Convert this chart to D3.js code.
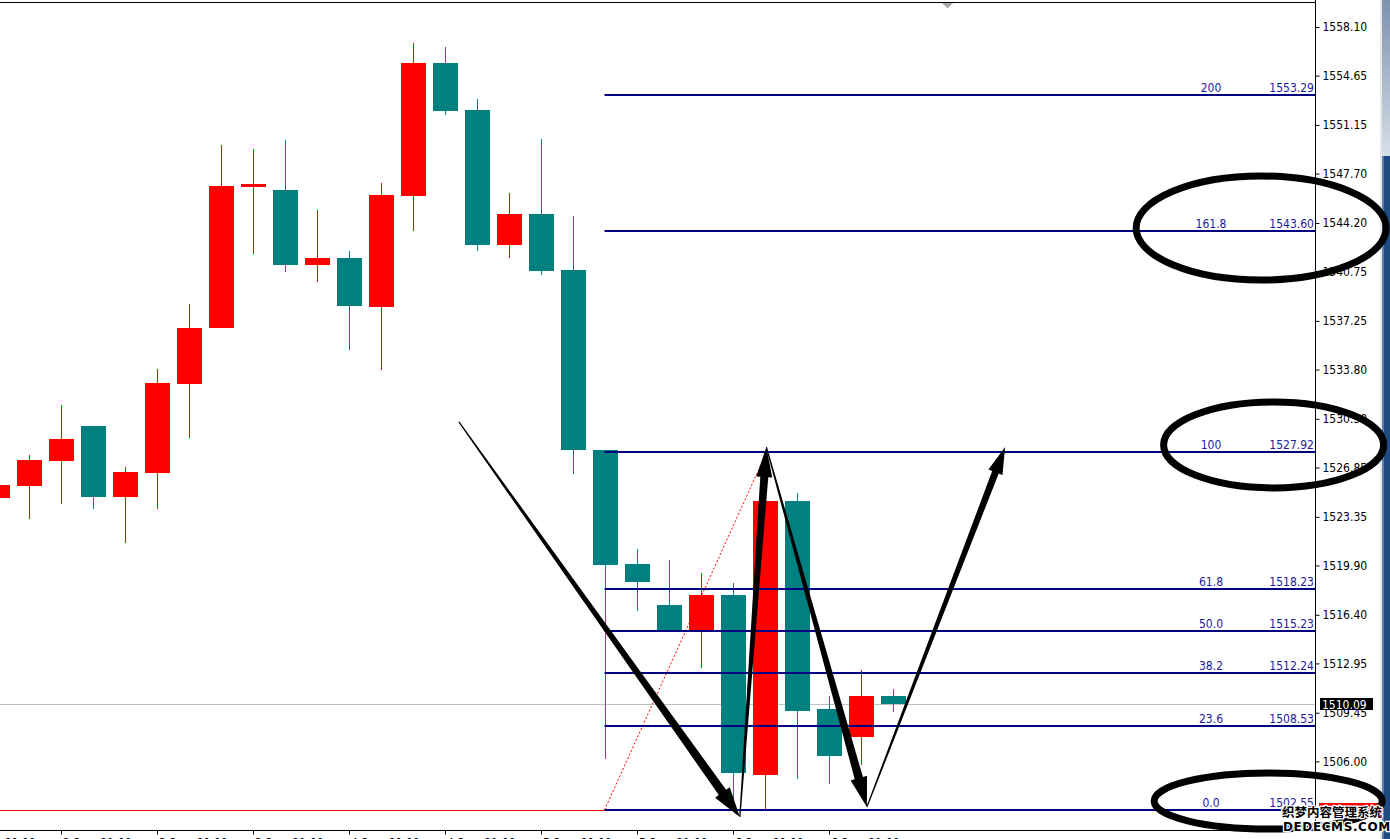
<!DOCTYPE html>
<html><head><meta charset="utf-8">
<script src="https://cdn.jsdelivr.net/npm/d3@7"></script>
<style>
html,body{margin:0;padding:0;background:#fff;overflow:hidden;}
svg{display:block;}
.lbl{font-family:"DejaVu Sans Condensed","DejaVu Sans",sans-serif;font-stretch:condensed;font-size:12px;}
</style></head><body>
<svg id="c" width="1390" height="839"></svg>
<script>
// ---- data ----
const candleTimes = ["2 Sep 13:00","2 Sep 17:00","2 Sep 21:00","3 Sep 01:00","3 Sep 05:00","3 Sep 09:00","3 Sep 13:00","3 Sep 17:00","3 Sep 21:00","4 Sep 01:00","4 Sep 05:00","4 Sep 09:00","4 Sep 13:00","4 Sep 17:00","4 Sep 21:00","5 Sep 01:00","5 Sep 05:00","5 Sep 09:00","5 Sep 13:00","5 Sep 17:00","5 Sep 21:00","6 Sep 01:00","6 Sep 05:00","6 Sep 09:00","6 Sep 13:00","6 Sep 17:00","6 Sep 21:00","7 Sep 01:00","7 Sep 05:00"];
const opens  = [1524.71,1525.56,1527.33,1529.79,1524.78,1526.48,1532.79,1536.77,1546.77,1546.54,1541.24,1541.71,1538.26,1546.13,1555.55,1552.21,1542.66,1544.83,1540.86,1528.09,1520.00,1517.10,1515.27,1517.80,1505.06,1524.47,1509.72,1507.75,1510.64];
const highs  = [1525.90,1527.74,1531.28,1529.79,1526.89,1533.84,1538.45,1549.73,1549.45,1550.08,1545.12,1542.21,1547.03,1556.97,1556.68,1552.99,1546.32,1550.15,1544.69,1528.09,1521.07,1520.29,1519.37,1518.66,1525.20,1525.06,1510.64,1512.48,1511.14];
const lows   = [1524.40,1523.20,1524.28,1523.93,1521.52,1523.93,1528.96,1536.77,1542.02,1540.74,1540.03,1535.21,1533.79,1543.65,1551.88,1542.23,1541.73,1540.53,1526.41,1506.15,1516.69,1515.27,1512.65,1502.84,1502.55,1504.75,1504.40,1505.75,1509.53];
const closes = [1525.61,1527.38,1528.87,1524.78,1526.53,1532.85,1536.75,1546.82,1546.96,1541.24,1541.71,1538.33,1546.18,1555.55,1552.16,1542.66,1544.83,1540.81,1528.11,1519.95,1518.75,1515.27,1517.80,1505.16,1524.47,1509.60,1506.40,1510.64,1510.09];

const xTickIndex  = [-1,2,5,8,11,14,17,20,23,26];
const xTickLabels = ["2 Sep 09:00","2 Sep 21:00","3 Sep 09:00","3 Sep 21:00","4 Sep 09:00","4 Sep 21:00","5 Sep 09:00","5 Sep 21:00","6 Sep 09:00","6 Sep 21:00"];
const yTicks = [1558.10,1554.65,1551.15,1547.70,1544.20,1540.75,1537.25,1533.80,1530.30,1526.85,1523.35,1519.90,1516.40,1512.95,1509.45,1506.00];

const fibRatios = ["200","161.8","100","61.8","50.0","38.2","23.6","0.0"];
const fibPrices = [1553.29,1543.60,1527.92,1518.23,1515.23,1512.24,1508.53,1502.55];
const fibStart = [19,1502.55], fibEnd = [24,1527.92];
const currentPrice = 1510.09;

// hand-drawn annotations (candle index, price)
const arrowFrom = [[14.45,1530.08],[23.23,1502.06],[24.06,1528.30],[27.2,1502.76]];
const arrowTo   = [[23.23,1502.06],[24.06,1528.30],[27.2,1502.76],[31.52,1528.30]];
const ellipseCenters = [[39.52,1543.84],[39.91,1528.45],[39.74,1503.19]];

// ---- layout ----
const W = 1390, H = 839, plotR = 1315.5, plotB = 830;
const svg = d3.select("#c");
const x = d3.scaleLinear().domain([0,1]).range([-3.5,28.5]);
const y = d3.scaleLinear().domain([1502.55,1558.10]).range([810,27]);
const BODY = 25;
const UP = "#ff0000", DN = "#008080";

svg.append("rect").attr("width",W).attr("height",H).attr("fill","#fff");
svg.append("defs").append("clipPath").attr("id","plot").append("rect")
  .attr("x",0).attr("y",3).attr("width",plotR).attr("height",plotB-3);
const plot = svg.append("g").attr("clip-path","url(#plot)");

// current price line
plot.append("line").attr("x1",0).attr("x2",plotR)
  .attr("y1",Math.round(y(currentPrice))+0.5).attr("y2",Math.round(y(currentPrice))+0.5)
  .attr("stroke","#c0c0c0").attr("stroke-width",1);

// candles
const idx = d3.range(candleTimes.length);
const cg = plot.append("g");
idx.forEach(i => {
  const up = closes[i] >= opens[i];
  const col = up ? UP : DN;
  const cx = Math.round(x(i));
  cg.append("line").attr("x1",cx+0.5).attr("x2",cx+0.5)
    .attr("y1",Math.round(y(highs[i]))).attr("y2",Math.round(y(lows[i])))
    .attr("stroke",col).attr("stroke-width",1);
  const top = Math.round(y(Math.max(opens[i],closes[i])));
  const bot = Math.round(y(Math.min(opens[i],closes[i])));
  cg.append("rect").attr("x",cx-12).attr("width",BODY)
    .attr("y",top).attr("height",Math.max(2,bot-top)).attr("fill",col);
});

// red horizontal + dotted fib trend line
plot.append("line").attr("x1",0).attr("x2",x(fibStart[0]))
  .attr("y1",Math.round(y(fibStart[1]))+0.5).attr("y2",Math.round(y(fibStart[1]))+0.5)
  .attr("stroke",UP).attr("stroke-width",1);
plot.append("line").attr("x1",x(fibStart[0])).attr("y1",y(fibStart[1]))
  .attr("x2",x(fibEnd[0])+2).attr("y2",y(fibEnd[1]))
  .attr("stroke",UP).attr("stroke-width",1).attr("stroke-dasharray","2,2");

// fib levels
const fg = plot.append("g");
fibPrices.forEach((p,i) => {
  const yy = Math.round(y(p));
  fg.append("line").attr("x1",x(fibStart[0])).attr("x2",plotR)
    .attr("y1",yy).attr("y2",yy).attr("stroke","#000080").attr("stroke-width",2);
  fg.append("text").attr("class","lbl").attr("x",1211).attr("y",yy-3)
    .attr("text-anchor","middle").attr("fill","#1c1ca0").text(fibRatios[i]);
  fg.append("text").attr("class","lbl").attr("x",1314).attr("y",yy-3)
    .attr("text-anchor","end").attr("fill","#1c1ca0").text(p.toFixed(2));
});

// frame
svg.append("line").attr("x1",0).attr("x2",plotR).attr("y1",2.5).attr("y2",2.5).attr("stroke","#000");
svg.append("path").attr("d",d3.line()([[942,3],[953,3],[947.5,8.5]])+"Z").attr("fill","#a8a8a8");

// y axis
const yAxis = d3.axisRight(y).tickValues(yTicks).tickSize(4).tickPadding(3).tickFormat(d=>d.toFixed(2));
const yg = svg.append("g").attr("transform",`translate(${plotR},0)`).call(yAxis);
yg.select(".domain").attr("d",`M0,0V${plotB}`).attr("stroke","#000");
yg.selectAll("text").attr("class","lbl").attr("fill","#000").style("font-size","12px");

// x axis
const xAxis = d3.axisBottom(x).tickValues(xTickIndex).tickSize(4).tickPadding(3)
  .tickFormat((d,i)=>xTickLabels[i]);
const xg = svg.append("g").attr("transform",`translate(0,${plotB+0.5})`).call(xAxis);
xg.select(".domain").attr("d",`M0,0H${plotR}`).attr("stroke","#000");
xg.selectAll(".tick line").attr("transform","translate(0.5,0)");
xg.selectAll("text").attr("class","lbl").attr("fill","#000").attr("text-anchor","start")
  .attr("dx","2").attr("y",16).attr("dy",0).style("font-size","12px")
  .style("white-space","pre").text((d,i)=>xTickLabels[i].replace(/^(\d+ \w+) /,"$1  "));

// current price label
const cpY = Math.round(y(currentPrice));
svg.append("rect").attr("x",1320).attr("y",cpY-6).attr("width",53).attr("height",12).attr("fill","#000");
svg.append("text").attr("class","lbl").attr("x",1322).attr("y",cpY+5).attr("fill","#fff").text(currentPrice.toFixed(2));

// red marker on axis for red line
svg.append("rect").attr("x",1319).attr("y",Math.round(y(fibStart[1]))-7).attr("width",59).attr("height",9).attr("fill",UP);

// scrollbar
const grad = svg.append("defs").append("linearGradient").attr("id","sg").attr("x1",0).attr("y1",0).attr("x2",0).attr("y2",1);
grad.append("stop").attr("offset","0").attr("stop-color","#7d92ad");
grad.append("stop").attr("offset","1").attr("stop-color","#d6dee8");
svg.append("rect").attr("x",1380).attr("y",0).attr("width",10).attr("height",H).attr("fill","#e8e8e8");
svg.append("rect").attr("x",1382).attr("y",0).attr("width",8).attr("height",156).attr("fill","url(#sg)");
svg.append("rect").attr("x",1382).attr("y",156).attr("width",8).attr("height",H-156).attr("fill","#1f4b82");
svg.append("rect").attr("x",1382).attr("y",156).attr("width",2).attr("height",H-156).attr("fill","#5a7fae");

// annotations: tapered arrows
function arrowPath(p0,p1,w0,w1,headLen,headW){
  const dx=p1[0]-p0[0], dy=p1[1]-p0[1], L=Math.hypot(dx,dy);
  const ux=dx/L, uy=dy/L, nx=-uy, ny=ux;
  const bx=p1[0]-ux*headLen, by=p1[1]-uy*headLen;
  const pts=[[p0[0]+nx*w0/2,p0[1]+ny*w0/2],[bx+nx*w1/2,by+ny*w1/2],[bx+nx*headW/2,by+ny*headW/2],
    p1,[bx-nx*headW/2,by-ny*headW/2],[bx-nx*w1/2,by-ny*w1/2],[p0[0]-nx*w0/2,p0[1]-ny*w0/2]];
  return d3.line()(pts)+"Z";
}
const arrowStyle = [[1.2,9,30,18],[1.2,8,30,16],[1.2,8.5,30,17],[1.2,7,27,15]];
const ag = svg.append("g");
arrowFrom.forEach((a,i)=>{
  const p0=[x(a[0]),y(a[1])], p1=[x(arrowTo[i][0]),y(arrowTo[i][1])];
  const s=arrowStyle[i];
  ag.append("path").attr("d",arrowPath(p0,p1,s[0],s[1],s[2],s[3])).attr("fill","#000");
});

// ellipses
const ellR = [[125,52],[110,43],[114,28]];
ellipseCenters.forEach((c,i)=>{
  ag.append("ellipse").attr("cx",x(c[0])).attr("cy",y(c[1]))
    .attr("rx",ellR[i][0]).attr("ry",ellR[i][1])
    .attr("fill","none").attr("stroke","#000").attr("stroke-width",7);
});

// watermark
svg.append("text").attr("x",1282).attr("y",817)
  .style("font-family","'Noto Sans CJK SC'").style("font-size","12.5px").style("font-weight","bold")
  .attr("fill","#000").attr("stroke","#fff").attr("stroke-width",2.5).attr("paint-order","stroke")
  .text("织梦内容管理系统");
svg.append("text").attr("x",1283).attr("y",831)
  .style("font-family","'DejaVu Sans'").style("font-size","12px").style("font-weight","bold").style("letter-spacing","0.6px")
  .attr("fill","#000").attr("stroke","#fff").attr("stroke-width",2.5).attr("paint-order","stroke")
  .text("DEDECMS.COM");
</script>
</body></html>
